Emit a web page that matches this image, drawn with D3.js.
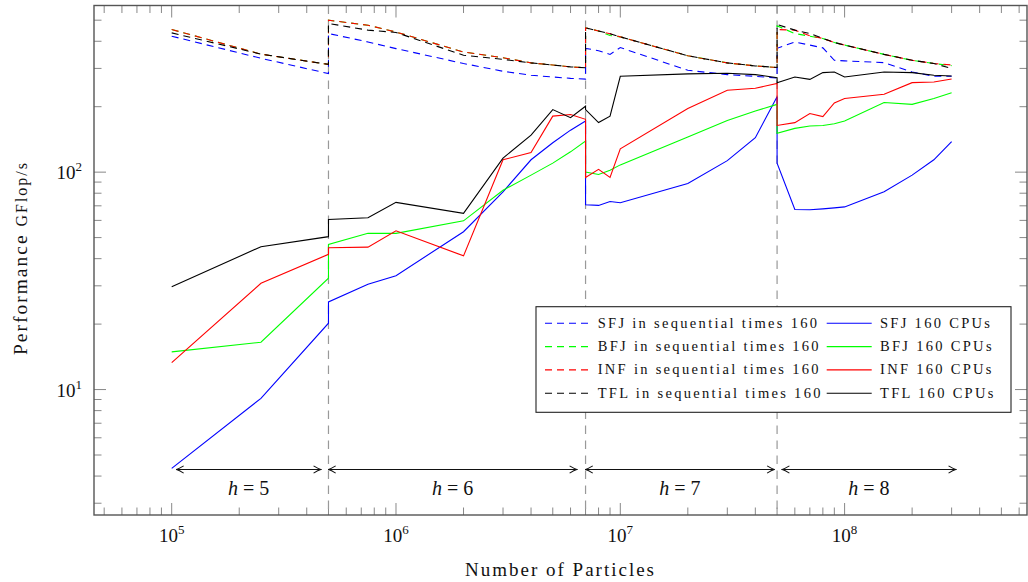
<!DOCTYPE html>
<html>
<head>
<meta charset="utf-8">
<script src="https://cdn.jsdelivr.net/npm/d3@7"></script>
<style>
  body { margin: 0; background: #fff; }
  text { font-family: "Liberation Serif", "DejaVu Serif", serif; fill: #111; }
</style>
</head>
<body>
<svg id="chart" width="1028" height="582"></svg>
<script>
// particle counts, one block per tree depth h (boundary values repeat -> vertical jumps)
const xH5 = [1e5, 2.5e5, 5e5];
const xH6 = [5e5, 7.5e5, 1e6, 2e6, 3e6, 4e6, 5e6, 6e6, 7e6];
const xH7 = [7e6, 8e6, 9e6, 1e7, 2e7, 3e7, 4e7, 5e7];
const xH8 = [5e7, 6e7, 7e7, 8e7, 9e7, 1e8, 1.5e8, 2e8, 2.5e8, 3e8];
const particles = [...xH5, ...xH6, ...xH7, ...xH8];

// GFlop/s, sequential run times 160
const sfjSeq = [422, 334, 284,  434, 397, 370, 316, 291, 279, 274, 270, 268,
                371, 362, 348, 374, 294, 281, 276, 271,  371, 397, 384, 373, 327, 325, 319, 289, 276, 276];
const bfjSeq = [453, 349, 313,  500, 474, 441, 357, 336, 318, 311, 305, 302,
                461, 446, 425, 419, 343, 318, 308, 303,  471, 434, 422, 412, 395, 384, 348, 327, 316, 309];
const infSeq = [453, 349, 313,  500, 474, 441, 357, 336, 318, 311, 305, 302,
                461, 446, 433, 419, 343, 318, 308, 303,  453, 450, 424, 412, 395, 384, 348, 327, 316, 311];
const tflSeq = [437, 349, 313,  483, 450, 439, 345, 330, 318, 311, 305, 302,
                461, 446, 433, 419, 343, 318, 308, 303,  478, 450, 434, 412, 395, 384, 348, 327, 316, 300];

// GFlop/s on 160 CPUs
const sfj160 = [4.34, 9.11, 20.2,  25.3, 30.5, 33.4, 53.2, 81.2, 114, 136.5, 156, 172,
                70.8, 70.3, 73.3, 72.3, 88.7, 113, 144, 222,  110, 67.3, 67.1, 67.8, 68.5, 69.2, 81.2, 96.9, 114, 138];
const bfj160 = [14.9, 16.5, 32.5,  46.5, 52.3, 52.3, 59.7, 82.6, 96.9, 110, 124, 139,
                100, 97.6, 102, 108, 145, 173, 191, 205,  151, 159, 163, 164, 167, 172, 209, 205, 218, 232];
const inf160 = [13.3, 30.8, 41.9,  44.9, 45.2, 53.7, 41.2, 114, 123, 181, 184, 175,
                94.5, 103, 94.5, 128, 196, 238, 243, 256,  164, 169, 186, 180, 208, 218, 228, 258, 260, 268];
const tfl160 = [29.7, 45.4, 50.5,  60.6, 61.7, 72.6, 64.6, 116, 148, 194, 178, 201,
                194, 169, 181, 276, 283, 285, 281, 272,  258, 274, 267, 287, 289, 274, 289, 287, 279, 277];

const legendNames = ["SFJ", "BFJ", "INF", "TFL"];
const seqSeries = [sfjSeq, bfjSeq, infSeq, tflSeq];
const cpuSeries = [sfj160, bfj160, inf160, tfl160];

const boundaries = [5e5, 7e6, 5e7];
const hLabels = ["5", "6", "7", "8"];
const hRanges = [[1.05e5, 4.62e5], [5e5, 6.4e6], [7e6, 4.86e7], [5.27e7, 3.13e8]];
const xTicks = [1e5, 1e6, 1e7, 1e8];
const yTicks = [10, 100];

const colors = ["#0000ff", "#00ff00", "#ff0000", "#000000"];
const L = 94, R = 1027, T = 5.5, B = 515;

const svg = d3.select("#chart");

const x = d3.scaleLog().domain([10 ** 4.6536, 10 ** 8.8132]).range([L, R]);
const y = d3.scaleLog().domain([10 ** 0.423, 10 ** 2.7665]).range([B, T]);

// minor ticks
const xMinor = [], yMinor = [];
for (let e = 4; e <= 8; e++) for (let k = 2; k <= 9; k++) {
  const v = k * 10 ** e;
  if (v > x.domain()[0] && v < x.domain()[1]) xMinor.push(v);
}
for (let e = 0; e <= 2; e++) for (let k = 2; k <= 9; k++) {
  const v = k * 10 ** e;
  if (v > y.domain()[0] && v < y.domain()[1]) yMinor.push(v);
}

const ticks = svg.append("g").attr("stroke", "#888").attr("stroke-width", 1);
xMinor.forEach(v => {
  ticks.append("line").attr("x1", x(v)).attr("x2", x(v)).attr("y1", B).attr("y2", B - 7.5);
  ticks.append("line").attr("x1", x(v)).attr("x2", x(v)).attr("y1", T).attr("y2", T + 7.5);
});
xTicks.forEach(v => {
  ticks.append("line").attr("x1", x(v)).attr("x2", x(v)).attr("y1", B).attr("y2", B - 12);
  ticks.append("line").attr("x1", x(v)).attr("x2", x(v)).attr("y1", T).attr("y2", T + 12);
});
yMinor.forEach(v => {
  ticks.append("line").attr("y1", y(v)).attr("y2", y(v)).attr("x1", L).attr("x2", L + 7.5);
  ticks.append("line").attr("y1", y(v)).attr("y2", y(v)).attr("x1", R).attr("x2", R - 7.5);
});
yTicks.forEach(v => {
  ticks.append("line").attr("y1", y(v)).attr("y2", y(v)).attr("x1", L).attr("x2", L + 12);
  ticks.append("line").attr("y1", y(v)).attr("y2", y(v)).attr("x1", R).attr("x2", R - 12);
});

// h boundaries
svg.append("g").selectAll("line").data(boundaries).join("line")
  .attr("x1", d => x(d)).attr("x2", d => x(d))
  .attr("y1", T).attr("y2", B)
  .attr("stroke", "#999").attr("stroke-width", 1.2)
  .attr("stroke-dasharray", "8.5,6.5");

// data lines
const line = d3.line().x(d => x(d[0])).y(d => y(d[1]));
const plots = svg.append("g").attr("fill", "none");
seqSeries.forEach((vals, i) => {
  plots.append("path")
    .datum(particles.map((p, j) => [p, vals[j]]))
    .attr("d", line)
    .attr("stroke", colors[i]).attr("stroke-width", 1.1)
    .attr("stroke-dasharray", "7,5");
  plots.append("path")
    .datum(particles.map((p, j) => [p, cpuSeries[i][j]]))
    .attr("d", line)
    .attr("stroke", colors[i]).attr("stroke-width", 1.1);
});

// h ranges with arrows
svg.append("defs").append("marker")
  .attr("id", "tip").attr("viewBox", "0 0 10 10")
  .attr("refX", 9).attr("refY", 5)
  .attr("markerWidth", 9).attr("markerHeight", 9)
  .attr("markerUnits", "userSpaceOnUse")
  .attr("orient", "auto-start-reverse")
  .append("path").attr("d", "M1,1 Q6,4 9,5 Q6,6 1,9")
  .attr("fill", "none").attr("stroke", "#111").attr("stroke-width", 1.2);

const arrowY = 469.5;
const hg = svg.append("g");
hRanges.forEach((r, i) => {
  hg.append("line")
    .attr("x1", x(r[0])).attr("x2", x(r[1]))
    .attr("y1", arrowY).attr("y2", arrowY)
    .attr("stroke", "#111").attr("stroke-width", 1.1)
    .attr("marker-start", "url(#tip)").attr("marker-end", "url(#tip)");
  const t = hg.append("text")
    .attr("x", (x(r[0]) + x(r[1])) / 2).attr("y", 495)
    .attr("text-anchor", "middle").attr("font-size", 20);
  t.append("tspan").attr("font-style", "italic").text("h");
  t.append("tspan").attr("dx", 5).text("=");
  t.append("tspan").attr("dx", 5).text(hLabels[i]);
});

// frame
svg.append("rect")
  .attr("x", L).attr("y", T).attr("width", R - L).attr("height", B - T)
  .attr("fill", "none").attr("stroke", "#555").attr("stroke-width", 1.4);

// tick labels
xTicks.forEach(v => {
  const t = svg.append("text").attr("x", x(v)).attr("y", 542)
    .attr("text-anchor", "middle").attr("font-size", 19);
  t.append("tspan").text("10");
  t.append("tspan").attr("dy", -8).attr("font-size", 13).text(Math.round(Math.log10(v)));
});
yTicks.forEach(v => {
  const t = svg.append("text").attr("x", 82).attr("y", y(v) + 7)
    .attr("text-anchor", "end").attr("font-size", 19);
  t.append("tspan").text("10");
  t.append("tspan").attr("dy", -8).attr("font-size", 13).text(Math.round(Math.log10(v)));
});

// axis titles
svg.append("text").attr("x", (L + R) / 2).attr("y", 576)
  .attr("text-anchor", "middle").attr("font-size", 19)
  .attr("letter-spacing", 2)
  .text("Number of Particles");

const yt = svg.append("text")
  .attr("transform", "translate(27,258) rotate(-90)")
  .attr("text-anchor", "middle").attr("font-size", 19.5).attr("letter-spacing", 2);
yt.append("tspan").text("Performance ");
yt.append("tspan").attr("font-size", 16).text("GFlop/s");

// legend
const lg = svg.append("g");
lg.append("rect").attr("x", 536).attr("y", 306.7).attr("width", 475).attr("height", 105.6)
  .attr("fill", "#fff").attr("stroke", "#222").attr("stroke-width", 1.1);
legendNames.forEach((name, i) => {
  const cy = 323.3 + i * 23.3;
  lg.append("line").attr("x1", 545).attr("x2", 590).attr("y1", cy).attr("y2", cy)
    .attr("stroke", colors[i]).attr("stroke-width", 1.1).attr("stroke-dasharray", "7,5");
  lg.append("text").attr("x", 597.7).attr("y", cy + 4.5).attr("font-size", 14.5)
    .attr("letter-spacing", 2.3)
    .text(name + " in sequential times 160");
  lg.append("line").attr("x1", 826.7).attr("x2", 871.7).attr("y1", cy).attr("y2", cy)
    .attr("stroke", colors[i]).attr("stroke-width", 1.1);
  lg.append("text").attr("x", 880).attr("y", cy + 4.5).attr("font-size", 14.5)
    .attr("letter-spacing", 2.3)
    .text(name + " 160 CPUs");
});
</script>
</body>
</html>
